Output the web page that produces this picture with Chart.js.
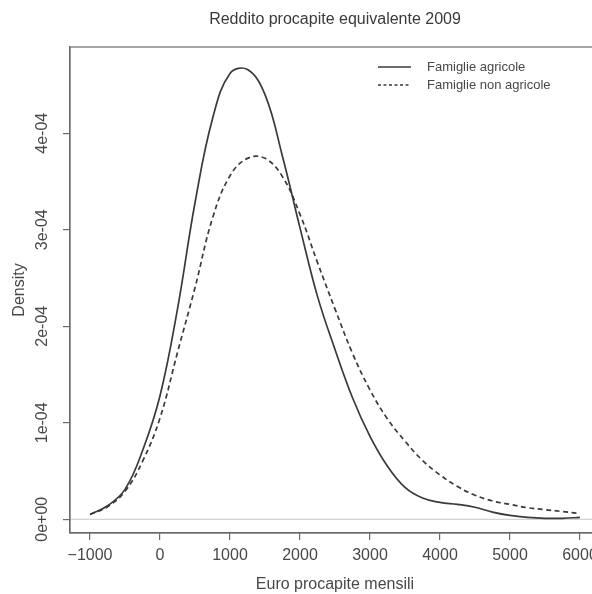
<!DOCTYPE html>
<html><head><meta charset="utf-8">
<script src="https://cdn.jsdelivr.net/npm/chart.js@4/dist/chart.umd.min.js"></script>
<style>html,body{margin:0;padding:0;background:#fff;overflow:hidden;}#wrap{width:610px;height:594px;}</style>
</head><body><div id="wrap"><canvas id="c" width="610" height="594"></canvas></div>
<script>
const chartTitle = "Reddito procapite equivalente 2009";
const xTitle = "Euro procapite mensili";
const yTitle = "Density";
const seriesNames = ["Famiglie agricole", "Famiglie non agricole"];
const xValues = [-1000,-750,-500,-250,0,250,500,750,1000,1250,1500,1750,2000,2250,2500,2750,3000,3250,3500,3750,4000,4250,4500,4750,5000,5250,5500,5750,6000];
const agricole = [0.05e-4,0.14e-4,0.31e-4,0.71e-4,1.28e-4,2.18e-4,3.28e-4,4.15e-4,4.62e-4,4.66e-4,4.40e-4,3.76e-4,3.02e-4,2.31e-4,1.76e-4,1.26e-4,0.86e-4,0.55e-4,0.33e-4,0.22e-4,0.175e-4,0.155e-4,0.125e-4,0.075e-4,0.04e-4,0.02e-4,0.01e-4,0.01e-4,0.02e-4];
const nonAgricole = [0.05e-4,0.13e-4,0.29e-4,0.60e-4,1.05e-4,1.73e-4,2.40e-4,3.12e-4,3.56e-4,3.74e-4,3.74e-4,3.55e-4,3.16e-4,2.66e-4,2.18e-4,1.72e-4,1.34e-4,1.04e-4,0.81e-4,0.61e-4,0.46e-4,0.34e-4,0.25e-4,0.19e-4,0.155e-4,0.12e-4,0.10e-4,0.08e-4,0.06e-4];
const xTicks = [-1000,0,1000,2000,3000,4000,5000,6000];
const xTickLabels = ["\u22121000","0","1000","2000","3000","4000","5000","6000"];
const yTicks = [0,1e-4,2e-4,3e-4,4e-4];
const yTickLabels = ["0e+00","1e-04","2e-04","3e-04","4e-04"];

const FONT = "'Liberation Sans', Arial, sans-serif";
const TXT = '#484848';
const AX = '#6a6a6a';
const LINE = '#3a3a3a';

const rPlugin = {
  id: 'rStyle',
  beforeDatasetsDraw(chart) {
    const {ctx, chartArea: a, scales: {y}} = chart;
    const y0 = y.getPixelForValue(0);
    ctx.save();
    ctx.strokeStyle = '#c8c8c8';
    ctx.lineWidth = 1;
    ctx.beginPath(); ctx.moveTo(a.left, y0); ctx.lineTo(a.right, y0); ctx.stroke();
    ctx.restore();
  },
  afterDraw(chart) {
    const {ctx, chartArea: a, scales: {y}} = chart;
    ctx.save();
    ctx.strokeStyle = AX; ctx.lineWidth = 1.2;
    ctx.strokeRect(a.left, a.top, a.right - a.left, a.bottom - a.top);
    ctx.fillStyle = TXT;
    ctx.font = '16px ' + FONT;
    ctx.textAlign = 'center'; ctx.textBaseline = 'middle';
    y.ticks.forEach(t => {
      const i = yTicks.indexOf(t.value);
      if (i < 0) return;
      const py = y.getPixelForValue(t.value);
      ctx.save(); ctx.translate(a.left - 27, py); ctx.rotate(-Math.PI/2);
      ctx.fillText(yTickLabels[i], 0, 0); ctx.restore();
    });
    ctx.font = '13px ' + FONT;
    ctx.textAlign = 'left';
    chart.data.datasets.forEach((ds, i) => {
      const ly = a.top + 20 + i * 18;
      const lx = a.left + 308;
      ctx.strokeStyle = ds.borderColor; ctx.lineWidth = 1.5;
      ctx.setLineDash(i === 1 ? [3, 2.5] : []);
      ctx.beginPath(); ctx.moveTo(lx, ly); ctx.lineTo(lx + 33, ly); ctx.stroke();
      ctx.setLineDash([]);
      ctx.fillStyle = TXT;
      ctx.fillText(ds.label, lx + 49, ly);
    });
    ctx.restore();
  }
};

new Chart(document.getElementById('c'), {
  type: 'line',
  data: {
    datasets: [
      { label: seriesNames[0], data: xValues.map((x, i) => ({x, y: agricole[i]})),
        borderColor: LINE, borderWidth: 1.7, pointRadius: 0, fill: false, tension: 0.4 },
      { label: seriesNames[1], data: xValues.map((x, i) => ({x, y: nonAgricole[i]})),
        borderColor: LINE, borderWidth: 1.7, pointRadius: 0, fill: false, tension: 0.4, borderDash: [5, 3.5] }
    ]
  },
  options: {
    responsive: false, animation: false, devicePixelRatio: 1,
    layout: { padding: { left: 0, right: 10, top: 0, bottom: 0 } },
    plugins: {
      legend: { display: false }, tooltip: { enabled: false },
      title: { display: true, text: chartTitle, fullSize: false, color: '#3a3a3a',
        font: { family: FONT, size: 16, weight: 'normal' }, padding: { top: 10.4, bottom: 17.4 } }
    },
    scales: {
      x: {
        type: 'linear', min: -1286, max: 6286,
        afterBuildTicks: s => { s.ticks = xTicks.map(v => ({value: v})); },
        afterFit: s => { s.height = 61; },
        ticks: { autoSkip: false, maxRotation: 0, padding: 6, color: TXT, font: { family: FONT, size: 16 },
          callback: v => xTickLabels[xTicks.indexOf(v)] },
        grid: { drawOnChartArea: false, drawTicks: true, tickLength: 7, color: AX, tickColor: AX, lineWidth: 1.2 },
        border: { display: true, color: AX, width: 1.2 },
        title: { display: true, text: xTitle, color: TXT, font: { family: FONT, size: 16 }, padding: { top: 0, bottom: 0 } }
      },
      y: {
        type: 'linear', min: -0.142e-4, max: 4.894e-4,
        afterBuildTicks: s => { s.ticks = yTicks.map(v => ({value: v})); },
        afterFit: s => { s.width = 70; },
        ticks: { display: false },
        grid: { drawOnChartArea: false, drawTicks: true, tickLength: 7, color: AX, tickColor: AX, lineWidth: 1.2 },
        border: { display: true, color: AX, width: 1.2 },
        title: { display: true, text: yTitle, color: TXT, font: { family: FONT, size: 16 }, padding: { top: 9.5, bottom: 0 } }
      }
    }
  },
  plugins: [rPlugin]
});
</script></body></html>
